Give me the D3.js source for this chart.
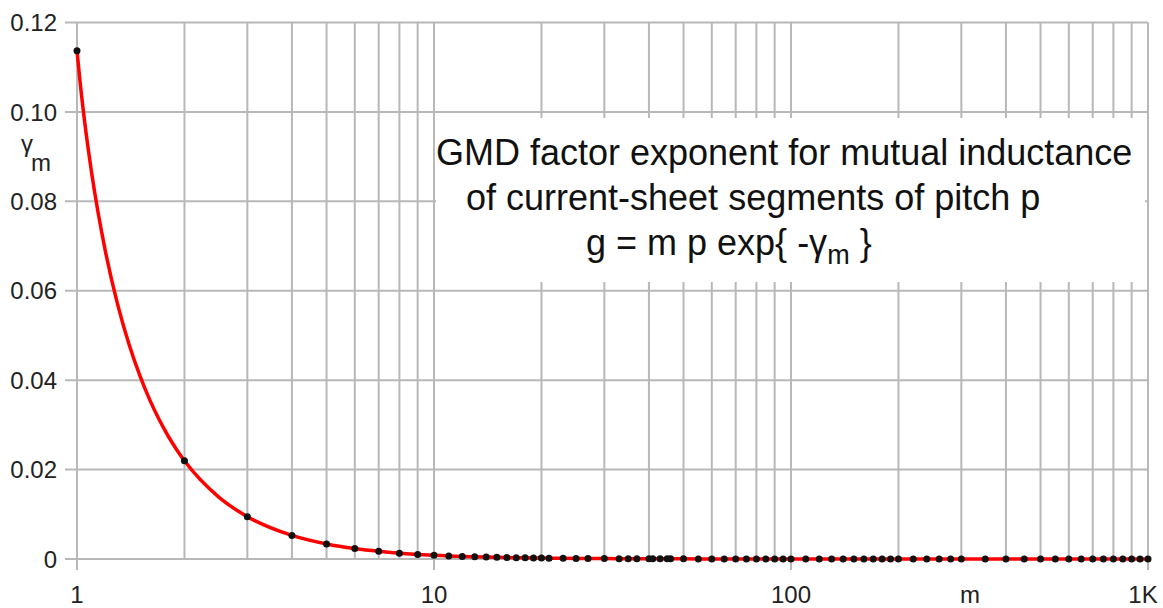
<!DOCTYPE html>
<html>
<head>
<meta charset="utf-8">
<script src="https://cdn.jsdelivr.net/npm/d3@7"></script>
<style>
  body { margin: 0; background: #fff; }
  svg { display: block; font-family: "Liberation Sans", Arial, sans-serif; }
</style>
</head>
<body>
<svg id="chart" width="1163" height="608"></svg>
<script>
// sampled points (m, gamma_m) shown as dots
const mValues = [1, 2, 3, 4, 5, 6, 7, 8, 9, 10, 11, 12, 13, 14, 15, 16, 17, 18, 19, 20,
  21, 23, 25, 27, 30, 33, 35, 37, 40, 41, 43, 45, 46, 50, 55, 60, 65, 70, 75, 80, 85, 90, 95,
  100, 110, 120, 130, 140, 150, 160, 170, 180, 190, 200, 220, 240, 260, 280, 300,
  350, 400, 450, 500, 550, 600, 650, 700, 750, 800, 850, 900, 950, 1000];
const gammaValues = [0.1137, 0.02197, 0.009473, 0.005275, 0.003361, 0.002328, 0.001708, 0.001306,
  0.001031, 0.000835, 0.00069, 0.00058, 0.000494, 0.000426, 0.000371, 0.000326, 0.000289,
  0.000257, 0.000231, 0.000208,
  0.000189, 0.000158, 0.000133, 0.000114, 0.0000926, 0.0000765, 0.000068, 0.0000609, 0.0000521,
  0.0000496, 0.0000451, 0.0000412, 0.0000394, 0.0000333, 0.0000275, 0.0000231, 0.0000197,
  0.000017, 0.0000148, 0.000013, 0.0000115, 0.0000103, 0.0000092,
  0.0000083, 0.0000069, 0.0000058, 0.0000049, 0.0000043, 0.0000037, 0.0000033, 0.0000029,
  0.0000026, 0.0000023, 0.0000021, 0.0000017, 0.0000014, 0.0000012, 0.0000011, 0.0000009,
  0.0000007, 0.0000005, 0.0000004, 0.0000003, 0.0000003, 0.0000002, 0.0000002, 0.0000002,
  0.0000001, 0.0000001, 0.0000001, 0.0000001, 0.0000001, 0.0000001];

// extra readings of the red curve between the first dots (steep part)
const curveExtraM = [1.02, 1.05, 1.1, 1.2, 1.3, 1.4, 1.5, 1.6, 1.7, 1.8, 1.9, 2.5];
const curveExtraGamma = [0.10673, 0.09796, 0.08618, 0.06899, 0.05689, 0.04791, 0.0410,
  0.03553, 0.03113, 0.02751, 0.02451, 0.01379];

const yTicks = [0, 0.02, 0.04, 0.06, 0.08, 0.10, 0.12];
const yTickLabels = ['0', '0.02', '0.04', '0.06', '0.08', '0.10', '0.12'];
const xMajor = [1, 10, 100, 1000];
const xMajorLabels = ['1', '10', '100', '1K'];
const xGrid = [1, 2, 3, 4, 5, 6, 7, 8, 9, 10, 20, 30, 40, 50, 60, 70, 80, 90, 100,
  200, 300, 400, 500, 600, 700, 800, 900, 1000];

const titleLines = ['GMD factor exponent for mutual inductance', 'of current-sheet segments of pitch p'];

const svg = d3.select('#chart');
const plotLeft = 77, plotRight = 1148, plotTop = 22.5, plotBottom = 559;
const gridColor = '#b8b8b8';

const x = d3.scaleLog().domain([1, 1000]).range([plotLeft, plotRight]);
const y = d3.scaleLinear().domain([0, 0.12]).range([plotBottom, plotTop]);

// horizontal grid lines (with short tick stub left of the plot)
svg.append('g').selectAll('line')
  .data(yTicks)
  .enter()
  .append('line')
  .attr('x1', plotLeft - 12).attr('x2', plotRight)
  .attr('y1', d => y(d)).attr('y2', d => y(d))
  .attr('stroke', gridColor).attr('stroke-width', 2);

// vertical grid lines, major ones extend below the axis
svg.append('g').selectAll('line')
  .data(xGrid)
  .enter()
  .append('line')
  .attr('x1', d => x(d)).attr('x2', d => x(d))
  .attr('y1', plotTop)
  .attr('y2', d => xMajor.includes(d) ? plotBottom + 11 : plotBottom)
  .attr('stroke', gridColor).attr('stroke-width', 2);

// y tick labels
svg.append('g').selectAll('text')
  .data(yTicks)
  .enter()
  .append('text')
  .attr('x', 57)
  .attr('y', d => y(d))
  .attr('dy', '0.36em')
  .attr('text-anchor', 'end')
  .attr('font-size', 24)
  .attr('fill', '#222')
  .text((d, i) => yTickLabels[i]);

// x tick labels
svg.append('g').selectAll('text')
  .data(xMajor)
  .enter()
  .append('text')
  .attr('x', (d, i) => x(d) + (i === 3 ? -5 : 0))
  .attr('y', 603)
  .attr('text-anchor', 'middle')
  .attr('font-size', 24)
  .attr('fill', '#222')
  .text((d, i) => xMajorLabels[i]);

// axis names
svg.append('text')
  .attr('x', 970).attr('y', 603)
  .attr('text-anchor', 'middle')
  .attr('font-size', 24).attr('fill', '#222')
  .text('m');

const yName = svg.append('text')
  .attr('x', 21).attr('y', 152)
  .attr('font-size', 24).attr('fill', '#222');
yName.append('tspan').text('γ');
yName.append('tspan').attr('dy', 19).attr('dx', -2).text('m');

// white box behind the title
svg.append('rect')
  .attr('x', 436).attr('y', 118)
  .attr('width', 709).attr('height', 164)
  .attr('fill', '#fff');

svg.append('g').selectAll('text')
  .data(titleLines)
  .enter()
  .append('text')
  .attr('x', (d, i) => i === 0 ? 436 : 466)
  .attr('y', (d, i) => 165 + i * 45)
  .attr('font-size', 36)
  .attr('fill', '#111')
  .text(d => d);

const formula = svg.append('text')
  .attr('x', 586).attr('y', 255)
  .attr('font-size', 36).attr('fill', '#111');
formula.append('tspan').text('g = m p exp{ -γ');
formula.append('tspan').attr('dy', 9).attr('font-size', 27).text('m');
formula.append('tspan').attr('dy', -9).text(' }');

// red curve through all readings
const curvePts = mValues.map((m, i) => [m, gammaValues[i]])
  .concat(curveExtraM.map((m, i) => [m, curveExtraGamma[i]]))
  .sort((a, b) => a[0] - b[0]);

const line = d3.line()
  .x(d => x(d[0]))
  .y(d => y(d[1]))
  .curve(d3.curveMonotoneX);

svg.append('path')
  .datum(curvePts)
  .attr('d', line)
  .attr('fill', 'none')
  .attr('stroke', '#ff0000')
  .attr('stroke-width', 3.5);

// black dots
svg.append('g').selectAll('circle')
  .data(mValues)
  .enter()
  .append('circle')
  .attr('cx', d => x(d))
  .attr('cy', (d, i) => y(gammaValues[i]))
  .attr('r', 3.5)
  .attr('fill', '#111');
</script>
</body>
</html>
